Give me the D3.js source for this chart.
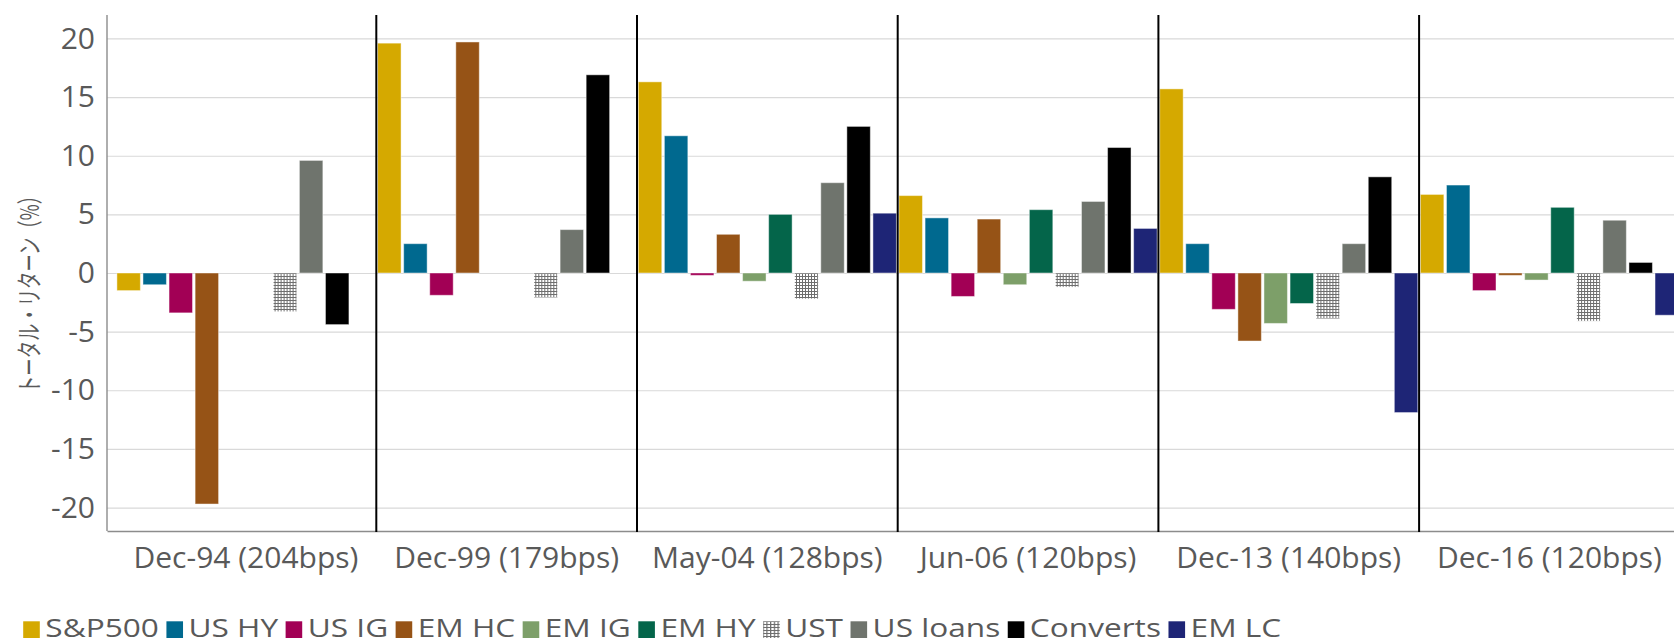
<!DOCTYPE html>
<html>
<head>
<meta charset="utf-8">
<script src="https://cdn.jsdelivr.net/npm/d3@7"></script>
<style>
  body { margin: 0; background: #fff; }
  svg { display: block; }
</style>
</head>
<body>
<svg id="chart" width="1674" height="643"></svg>
<script>
// Periods of rising rates (with the size of the Fed move) on the x axis
const categories = ["Dec-94 (204bps)", "Dec-99 (179bps)", "May-04 (128bps)", "Jun-06 (120bps)", "Dec-13 (140bps)", "Dec-16 (120bps)"];

// Asset classes, in legend / bar order
const seriesNames = ["S&P500", "US HY", "US IG", "EM HC", "EM IG", "EM HY", "UST", "US loans", "Converts", "EM LC"];

// Total returns (%) per asset class, one value per period (null = no data)
const sp500    = [-1.5, 19.6, 16.3, 6.6, 15.7, 6.7];
const usHY     = [-1.0, 2.5, 11.7, 4.7, 2.5, 7.5];
const usIG     = [-3.4, -1.9, -0.2, -2.0, -3.1, -1.5];
const emHC     = [-19.7, 19.7, 3.3, 4.6, -5.8, -0.2];
const emIG     = [null, null, -0.7, -1.0, -4.3, -0.6];
const emHY     = [null, null, 5.0, 5.4, -2.6, 5.6];
const ust      = [-3.3, -2.1, -2.2, -1.2, -3.9, -4.1];
const usLoans  = [9.6, 3.7, 7.7, 6.1, 2.5, 4.5];
const converts = [-4.4, 16.9, 12.5, 10.7, 8.2, 0.9];
const emLC     = [null, null, 5.1, 3.8, -11.9, -3.6];

const seriesValues = [sp500, usHY, usIG, emHC, emIG, emHY, ust, usLoans, converts, emLC];

// Y axis ticks
const yTicks = [-20, -15, -10, -5, 0, 5, 10, 15, 20];
const yTitle = "トータル・リターン（%）";

const colors = {
  "S&P500": "#D5A900",
  "US HY": "#00698F",
  "US IG": "#A20055",
  "EM HC": "#965316",
  "EM IG": "#7D9F69",
  "EM HY": "#04654A",
  "UST": "url(#ustPattern)",
  "US loans": "#6F746D",
  "Converts": "#000000",
  "EM LC": "#1E2576"
};

const W = 1674, H = 643;
const plotLeft = 107, plotRight = 1688.4, plotTop = 15, plotBottom = 531;
const textColor = "#595959";
const fontFamily = "'Open Sans', 'Noto Sans', sans-serif";

const svg = d3.select("#chart");

// Cross-hatch fill for UST
const defs = svg.append("defs");
const pat = defs.append("pattern")
  .attr("id", "ustPattern")
  .attr("patternUnits", "userSpaceOnUse")
  .attr("width", 3).attr("height", 3);
pat.append("rect").attr("width", 3).attr("height", 3).attr("fill", "#ffffff");
pat.append("rect").attr("x", 0).attr("y", 0).attr("width", 1).attr("height", 3).attr("fill", "#6e6e6e");
pat.append("rect").attr("x", 0).attr("y", 0).attr("width", 3).attr("height", 1).attr("fill", "#6e6e6e");

const y = d3.scaleLinear().domain([-22, 22]).range([plotBottom, plotTop]);
const x0 = d3.scaleBand().domain(categories).range([plotLeft, plotRight])
  .paddingInner(0).paddingOuter(0.033);
const x1 = d3.scaleBand().domain(seriesNames).range([0, x0.bandwidth()])
  .paddingInner(0.1).paddingOuter(0.05);

// Gridlines + y tick labels (plain hyphen for negatives)
const yAxis = svg.append("g")
  .attr("transform", `translate(${plotLeft},0)`)
  .call(d3.axisLeft(y).tickValues(yTicks).tickFormat(d => String(d))
    .tickSize(-(plotRight - plotLeft)).tickPadding(12));
yAxis.select(".domain").remove();
yAxis.selectAll(".tick line").attr("stroke", "#d9d9d9").attr("stroke-width", 1.2);
yAxis.selectAll(".tick text")
  .attr("fill", textColor)
  .style("font-family", fontFamily)
  .style("font-size", "30px");

// Bars
const groups = svg.append("g").selectAll("g")
  .data(categories)
  .join("g")
  .attr("transform", d => `translate(${x0(d)},0)`);

groups.selectAll("rect")
  .data((cat, ci) => seriesNames.map((s, si) => ({ s, v: seriesValues[si][ci] }))
    .filter(d => d.v !== null))
  .join("rect")
  .attr("x", d => x1(d.s))
  .attr("width", x1.bandwidth())
  .attr("y", d => y(Math.max(0, d.v)))
  .attr("height", d => Math.abs(y(d.v) - y(0)))
  .attr("fill", d => colors[d.s])
  .attr("stroke", "#ffffff")
  .attr("stroke-opacity", 0.45)
  .attr("stroke-width", 1);

// Y axis line
svg.append("line")
  .attr("x1", plotLeft).attr("x2", plotLeft)
  .attr("y1", plotTop).attr("y2", plotBottom)
  .attr("stroke", "#8c8c8c").attr("stroke-width", 1.4);

// X axis with category labels
const xAxis = svg.append("g")
  .attr("transform", `translate(0,${plotBottom})`)
  .call(d3.axisBottom(x0).tickSize(0).tickSizeOuter(0).tickPadding(16));
xAxis.select(".domain").attr("stroke", "#8c8c8c").attr("stroke-width", 1.4);
xAxis.selectAll(".tick text")
  .attr("fill", textColor)
  .style("font-family", fontFamily)
  .style("font-size", "30px");

// Period separators
svg.append("g").selectAll("line")
  .data(categories.slice(1))
  .join("line")
  .attr("x1", d => x0(d)).attr("x2", d => x0(d))
  .attr("y1", plotTop).attr("y2", plotBottom + 1)
  .attr("stroke", "#000").attr("stroke-width", 2);

// Y axis title
svg.append("text")
  .attr("transform", `translate(39,290) rotate(-90)`)
  .attr("text-anchor", "middle")
  .attr("fill", textColor)
  .attr("textLength", 206)
  .attr("lengthAdjust", "spacingAndGlyphs")
  .style("font-family", "'Noto Sans CJK JP', sans-serif")
  .style("font-size", "26px")
  .text(yTitle);

// Legend (slightly widened lettering)
const sx = 1.24;
const legend = svg.append("g")
  .attr("transform", `scale(${sx},1)`);
let lx = 23.2 / sx;
const sq = 16.6;
seriesNames.forEach(s => {
  const item = legend.append("g");
  item.append("rect")
    .attr("x", lx).attr("y", 621.3)
    .attr("width", sq / sx).attr("height", 16.7)
    .attr("fill", colors[s]);
  const t = item.append("text")
    .attr("x", lx + (sq + 5.5) / sx)
    .attr("y", 637)
    .attr("fill", textColor)
    .style("font-family", fontFamily)
    .style("font-size", "25.5px")
    .text(s);
  lx += (sq + 5.5) / sx + t.node().getComputedTextLength() + 7.5 / sx;
});
</script>
</body>
</html>
